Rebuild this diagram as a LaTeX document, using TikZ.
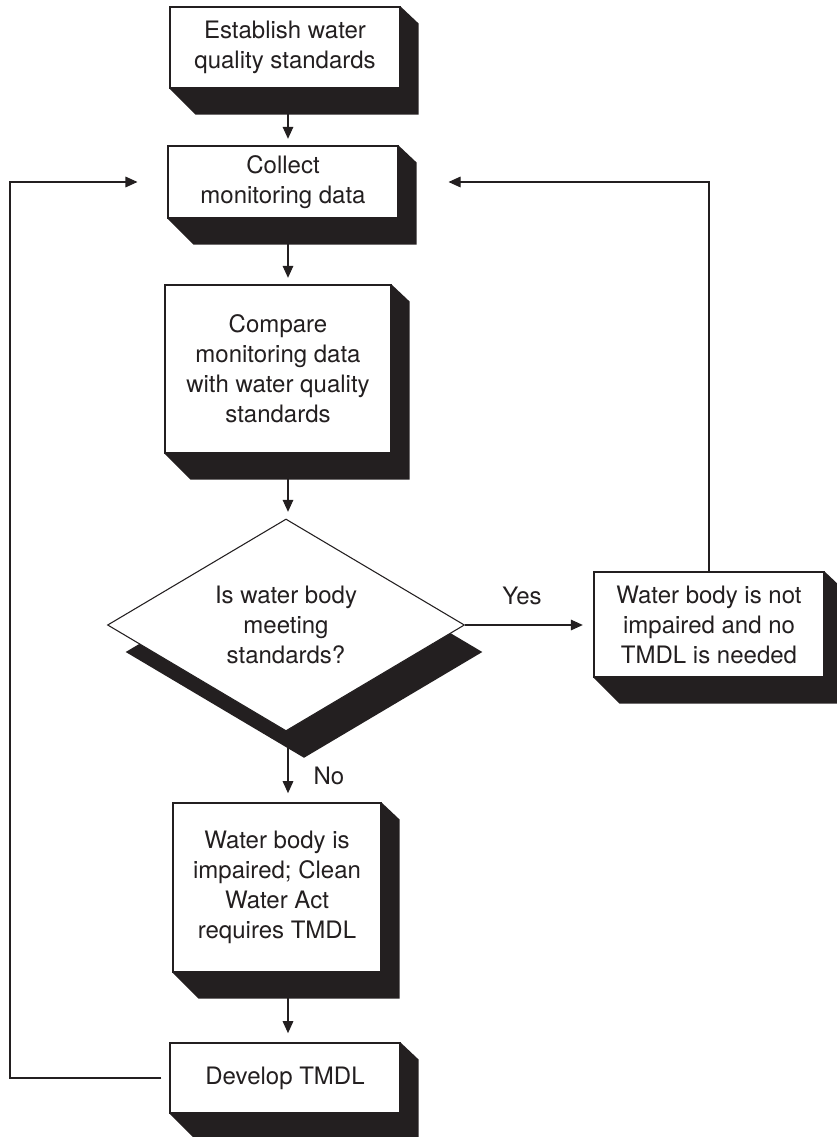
\documentclass[tikz,border=0pt]{standalone}
\usepackage{fontspec}
\setmainfont{TeX Gyre Heros}
\usetikzlibrary{shapes.geometric,arrows.meta,shadows,positioning}
\definecolor{ink}{RGB}{35,31,32}

% chamfered black block under a box
\newcommand{\boxshade}[1]{%
  \fill[ink] (#1.north east) -- ([shift={(18,17)}]#1.north east)
    -- ([shift={(18,26)}]#1.south east) -- ([shift={(26,26)}]#1.south west)
    -- (#1.south west) -- (#1.south east) -- cycle;}

\begin{document}
\begin{tikzpicture}[x=0.75pt, y=-0.75pt, line width=0.8pt, draw=ink, text=ink,
    font=\fontsize{18}{22.5}\selectfont,
    arr/.style={-{Triangle[length=9pt,width=8pt]}, shorten >=5pt},
    main box/.style={rectangle, draw, fill=white, align=center, inner sep=0pt},
    decision/.style={diamond, draw, fill=white, align=center, inner sep=0pt,
      aspect=1.68, drop shadow={shadow xshift=13.5pt, shadow yshift=-20.25pt,
      fill=ink, opacity=1}}]

  \useasboundingbox (0,0) rectangle (836,1137);

  \node[main box, minimum width=172.5pt, minimum height=60.75pt] (establish)
    at (285,47.5) {Establish water\\quality standards};
  \node[main box, minimum width=172.5pt, minimum height=54pt] (collect)
    at (283,182) {Collect\\monitoring data};
  \node[main box, minimum width=169.5pt, minimum height=126pt] (compare)
    at (278,369) {Compare\\monitoring data\\with water quality\\standards};
  \node[decision, minimum width=267.75pt, minimum height=159pt] (meet)
    at (286,625) {Is water body\\meeting\\standards?};
  \node[main box, minimum width=172.5pt, minimum height=78.75pt] (notimp)
    at (709,624.5) {Water body is not\\impaired and no\\TMDL is needed};
  \node[main box, minimum width=156pt, minimum height=126.75pt] (impaired)
    at (277,887.5) {Water body is\\impaired; Clean\\Water Act\\requires TMDL};
  \node[main box, minimum width=172.5pt, minimum height=52.5pt] (develop)
    at (285,1078) {Develop TMDL};

  \boxshade{establish}
  \boxshade{collect}
  \boxshade{compare}
  \boxshade{notimp}
  \boxshade{impaired}
  \boxshade{develop}

  \node (yes) at (522,596) {Yes};
  \node (no) at (329,776) {No};

  \coordinate (spine) at (288,0);
  \coordinate (loop) at (10,0);

  \draw[arr] (establish.south -| spine) -- (collect.north -| spine);
  \draw[arr] (collect.south -| spine) -- (compare.north -| spine);
  \draw[arr] (compare.south -| spine) -- (meet.north -| spine);
  \draw[arr, shorten >=7pt] (meet.south -| spine) -- (impaired.north -| spine);
  \draw[arr, shorten >=7pt] (impaired.south -| spine) -- (develop.north -| spine);
  \draw[arr, shorten >=8pt] (meet.east) -- (meet.east -| notimp.west);
  \draw[arr, shorten >=37.5pt] (notimp.north) |- (collect.east);
  \draw[arr, shorten <=6pt, shorten >=22.5pt] (develop.west)
    -- (develop.west -| loop) |- (collect.west);
\end{tikzpicture}
\end{document}
